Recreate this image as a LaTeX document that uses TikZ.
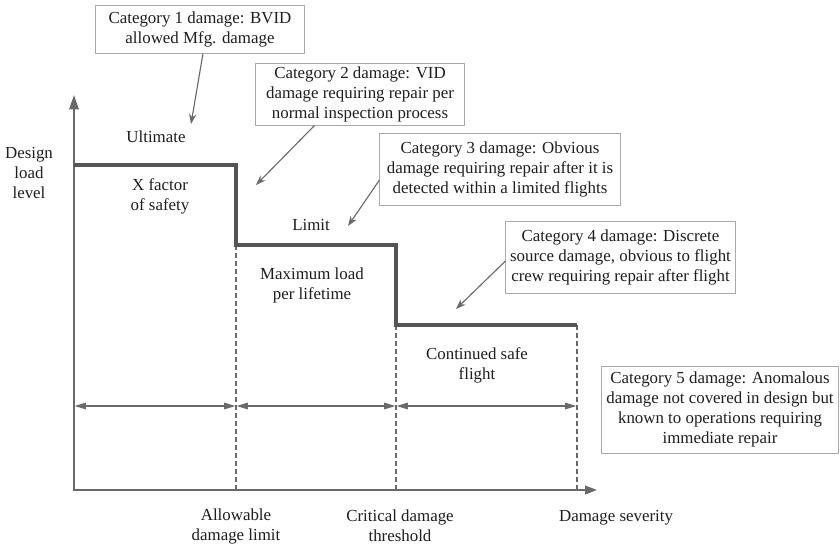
\documentclass[tikz,border=0pt]{standalone}
\usepackage{fontspec}
\setmainfont{Liberation Serif}
\usetikzlibrary{arrows.meta,calc}
\definecolor{inkgray}{RGB}{30,30,30}
\definecolor{axisgray}{RGB}{105,105,105}
\definecolor{stairgray}{RGB}{85,85,85}
\definecolor{boxgray}{RGB}{170,170,170}
\begin{document}
\begin{tikzpicture}[x=0.025cm, y=-0.025cm,
  lbl/.style={text=inkgray, align=center, inner sep=0pt, font=\fontsize{12}{14.2}\selectfont},
  catbox/.style={lbl, draw=boxgray, line width=0.7pt},
  pointer/.style={draw=axisgray, line width=0.8pt, -{Stealth[length=2.5mm,width=1.8mm]}},
  span/.style={draw=axisgray, line width=1pt, {Triangle[length=2.8mm,width=1.6mm]}-{Triangle[length=2.8mm,width=1.6mm]}},
  guide/.style={draw=axisgray, line width=0.8pt, dash pattern=on 1.2mm off 0.8mm}]
  \useasboundingbox (0,0) rectangle (840,547);
  \coordinate (o) at (74,490);
  \coordinate (ytop) at (74,95);
  \coordinate (xend) at (597,490);
  \coordinate (dim) at (0,406);
  \draw[axisgray, line width=1.1pt, {Triangle[length=3.6mm,width=2.4mm]}-{Triangle[length=3mm,width=2.2mm]}] (ytop) -- (o) -- (xend);
  \foreach \n/\x/\y in {a/74/165, b/236/165, c/236/245, d/396/245, e/396/325, f/577/325}
    \coordinate (\n) at (\x,\y);
  \foreach \t in {c,e,f}
    \draw[guide] (\t) -- (\t |- o);
  \foreach \p/\q in {a/c, c/e, e/f}
    \draw[span, shorten <=0.4pt, shorten >=0.4pt] (\p |- dim) -- (\q |- dim);
  \draw[stairgray, line width=2.8pt] (a) -- (b) -- (c) -- (d) -- (e) -- (f);
  \node[lbl] (dll) at (29,173) {Design\\load\\level};
  \node[lbl] (ult) at (156,137) {Ultimate};
  \node[lbl] (xfac) at (160,196) {X factor\\of safety};
  \node[lbl] (lim) at (311,225) {Limit};
  \node[lbl] (maxl) at (312,285) {Maximum load\\per lifetime};
  \node[lbl] (csf) at (477,365) {Continued safe\\flight};
  \node[lbl] (adl) at (236,526) {Allowable\\damage limit};
  \node[lbl] (cdt) at (400,526) {Critical damage\\threshold};
  \node[lbl] (sev) at (616,518) {Damage severity};
  \node[catbox, minimum width=5.2cm, minimum height=1.2cm] (cat1) at (200,29)
    {Category 1 damage: BVID\\allowed Mfg. damage};
  \node[catbox, minimum width=5.2cm, minimum height=1.55cm] (cat2) at (360,94)
    {Category 2 damage: VID\\damage requiring repair per\\normal inspection process};
  \node[catbox, minimum width=6cm, minimum height=1.8cm] (cat3) at (500,169)
    {Category 3 damage: Obvious\\damage requiring repair after it is\\detected within a limited flights};
  \node[catbox, minimum width=5.725cm, minimum height=1.8cm] (cat4) at (620.5,257)
    {Category 4 damage: Discrete\\source damage, obvious to flight\\crew requiring repair after flight};
  \node[catbox, minimum width=5.925cm, minimum height=2.175cm] (cat5) at (720,409.5)
    {Category 5 damage: Anomalous\\damage not covered in design but\\known to operations requiring\\immediate repair};
  \foreach \n/\x/\y in {t1/191/124, t2/256/185, t3/348/226, t4/456/309}
    \coordinate (\n) at (\x,\y);
  \draw[pointer] ([xshift=0.075cm]cat1.south) -- (t1);
  \draw[pointer] ([xshift=1.475cm]cat2.south west) -- (t2);
  \draw[pointer] ([yshift=-0.275cm]cat3.west) -- (t3);
  \draw[pointer] ([yshift=-0.1cm]cat4.west) -- (t4);
\end{tikzpicture}
\end{document}
